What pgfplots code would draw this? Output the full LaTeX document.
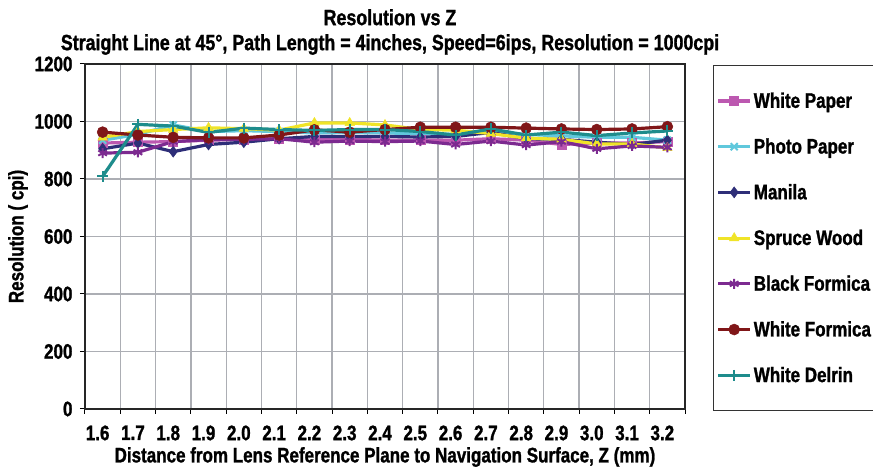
\documentclass[border=0pt]{standalone}
\usepackage{fontspec}
\setmainfont{Liberation Sans}[FakeStretch=0.81, BoldFeatures={FakeBold=1.2}]
\usepackage{pgfplots}
\usepackage{pgfplotstable}
\pgfplotsset{compat=1.18}
\definecolor{cwp}{RGB}{188,88,176}
\definecolor{cpp}{RGB}{96,200,220}
\definecolor{cma}{RGB}{46,46,120}
\definecolor{csw}{RGB}{240,228,40}
\definecolor{cbf}{RGB}{124,42,144}
\definecolor{cwf}{RGB}{128,22,24}
\definecolor{cwd}{RGB}{30,140,140}
\definecolor{cgrid}{RGB}{172,174,180}
\pgfplotstableread{
x wp pp ma sw bf wf wd
0 925 935 905 945 890 963 809
1 928 955 925 965 893 953 990
2 930 988 895 972 930 945 984
3 935 965 920 978 937 943 962
4 938 968 928 975 938 943 977
5 940 965 940 970 940 953 972
6 938 960 948 995 928 971 969
7 938 962 948 995 932 963 972
8 935 960 948 988 930 972 972
9 935 958 946 972 932 980 965
10 935 955 948 970 920 980 953
11 940 962 962 958 932 980 974
12 935 955 940 942 918 977 953
13 920 950 938 938 930 974 963
14 925 945 928 922 905 972 951
15 925 945 920 922 915 974 960
16 930 935 935 908 910 982 967
}\data
\begin{document}
\begin{tikzpicture}
\useasboundingbox (0,0) rectangle (873pt,473pt);
\begin{axis}[
  at={(85pt,64pt)}, anchor=south west,
  width=600pt, height=345pt, scale only axis,
  xmin=-0.5, xmax=16.5, ymin=0, ymax=1200,
  xtick={0,...,16},
  xticklabels={1.6,1.7,1.8,1.9,2.0,2.1,2.2,2.3,2.4,2.5,2.6,2.7,2.8,2.9,3.0,3.1,3.2},
  minor xtick={-0.5,0.5,...,16.5},
  ytick={0,200,...,1200},
  xmajorgrids=false, xminorgrids=true, ymajorgrids=true,
  grid style={cgrid, line width=1.3pt},
  minor grid style={cgrid, line width=1.3pt},
  tick align=outside, xtick pos=bottom, ytick pos=left,
  major x tick style={draw=none},
  minor x tick style={black, line width=1pt},
  major y tick style={black, line width=1pt},
  major tick length=5pt, minor tick length=5pt,
  axis line style={black!85, line width=1.2pt},
  /pgf/number format/assume math mode=true,
  tick label style={font=\bfseries\fontsize{21}{24}\selectfont},
  x tick label style={yshift=-8pt, xshift=-5pt},
  y tick label style={xshift=-4pt},
  yticklabel style={/pgf/number format/1000 sep={}},
  title={Resolution vs Z\\Straight Line at 45°, Path Length = 4inches, Speed=6ips, Resolution = 1000cpi},
  title style={font=\bfseries\fontsize{22}{25}\selectfont, align=center, at={(rel axis cs:0.5,1)}, anchor=center, yshift=26pt, xshift=5pt},
  xlabel={Distance from Lens Reference Plane to Navigation Surface, Z (mm)},
  ylabel={Resolution ( cpi)},
  every axis x label/.style={at={(rel axis cs:0.5,0)}, anchor=center, yshift=-48pt, font=\bfseries\fontsize{21}{24}\selectfont},
  every axis y label/.style={at={(rel axis cs:-0.1117,0.5)}, rotate=90, anchor=center, font=\bfseries\fontsize{21}{24}\selectfont},
  every axis plot/.append style={line width=3.2pt},
  legend image code/.code={\draw[mark repeat=2, mark phase=2] plot coordinates {(0pt,0pt) (16pt,0pt) (32pt,0pt)};},
  legend cell align=left,
  legend style={at={(rel axis cs:1,1)}, anchor=north west, xshift=28pt, yshift=-1pt,
    draw=black!80, line width=1.2pt, font=\bfseries\fontsize{21}{24}\selectfont,
    row sep=25pt, column sep=0pt, inner xsep=3pt, inner ysep=25pt},
]
\addplot[cwp, mark=square*, mark size=4.5pt, mark options={line width=0.5pt}] table[x=x,y=wp] {\data};
\addlegendentry{White Paper}
\addplot[cpp, mark=x, mark size=5pt, mark options={line width=2pt}] table[x=x,y=pp] {\data};
\addlegendentry{Photo Paper}
\addplot[cma, mark=diamond*, mark size=5.5pt, mark options={line width=0.5pt}] table[x=x,y=ma] {\data};
\addlegendentry{Manila}
\addplot[csw, mark=triangle*, mark size=5.5pt, mark options={line width=0.5pt}] table[x=x,y=sw] {\data};
\addlegendentry{Spruce Wood}
\addplot[cbf, mark=asterisk, mark size=5pt, mark options={line width=2pt}] table[x=x,y=bf] {\data};
\addlegendentry{Black Formica}
\addplot[cwf, mark=*, mark size=5.5pt, mark options={line width=0.5pt}] table[x=x,y=wf] {\data};
\addlegendentry{White Formica}
\addplot[cwd, mark=+, mark size=5.5pt, mark options={line width=2pt}] table[x=x,y=wd] {\data};
\addlegendentry{White Delrin}
\end{axis}
\end{tikzpicture}
\end{document}
